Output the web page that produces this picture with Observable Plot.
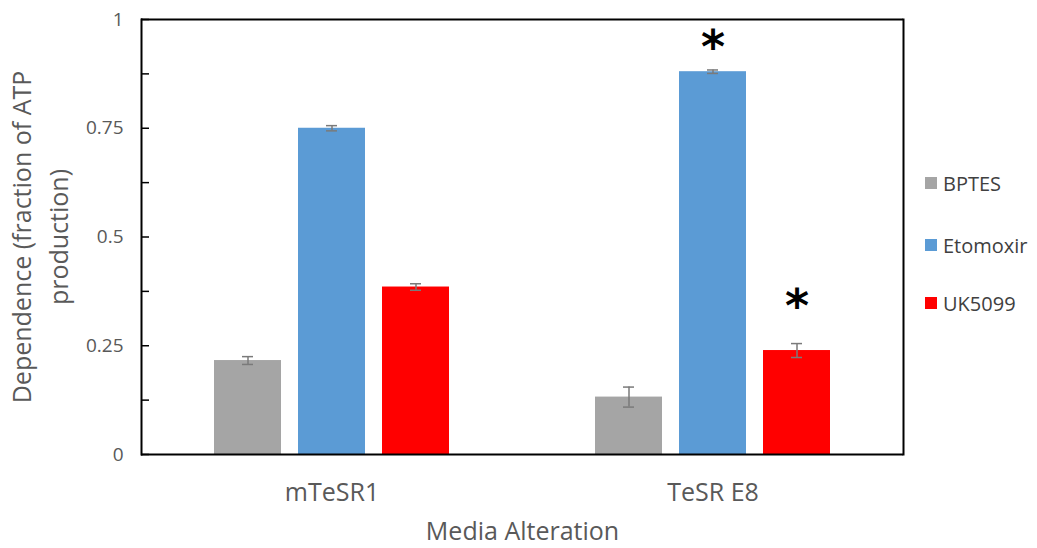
<!DOCTYPE html>
<html>
<head>
<meta charset="utf-8">
<script src="https://cdn.jsdelivr.net/npm/d3@7"></script>
<script src="https://cdn.jsdelivr.net/npm/@observablehq/plot@0.6"></script>
<style>
  body { margin: 0; background: #fff; }
  #wrap { position: relative; width: 1037px; height: 548px; font-family: "Open Sans", sans-serif; }
  #wrap svg { position: absolute; left: 0; top: 0; }
  .item { position: absolute; left: 925px; height: 30px; display: flex; align-items: center; font-size: 20px; color: #404040; white-space: nowrap; }
  .sw { display: inline-block; width: 12px; height: 12px; margin-right: 6px; }
</style>
</head>
<body>
<div id="wrap"></div>
<script>
// ---- data ----
const groups = ["mTeSR1", "TeSR E8"];
const series = ["BPTES", "Etomoxir", "UK5099"];
const colors = ["#a5a5a5", "#5b9bd5", "#ff0000"];
const valuesMTeSR1 = [0.216, 0.750, 0.385];
const valuesTeSRE8 = [0.132, 0.880, 0.239];
const errMTeSR1 = [0.009, 0.006, 0.0075];
const errTeSRE8 = [0.023, 0.004, 0.016];
const yTicks = [0, 0.25, 0.5, 0.75, 1];
const yTickLabels = ["0", "0.25", "0.5", "0.75", "1"];
const yMinorTicks = [0, 0.125, 0.25, 0.375, 0.5, 0.625, 0.75, 0.875, 1];
const yDomain = [0, 1];
const starGroups = ["TeSR E8", "TeSR E8"];
const starSeries = ["Etomoxir", "UK5099"];
const starY = [0.95, 0.355];
const yLabel = "Dependence (fraction of ATP\nproduction)";
const xLabel = "Media Alteration";

// ---- build table ----
const rows = [];
series.forEach((s, i) => {
  rows.push({group: groups[0], series: s, value: valuesMTeSR1[i], err: errMTeSR1[i]});
  rows.push({group: groups[1], series: s, value: valuesTeSRE8[i], err: errTeSRE8[i]});
});
rows.forEach(d => { d.lo = d.value - d.err; d.hi = d.value + d.err; });
const stars = starGroups.map((g, i) => ({group: g, series: starSeries[i], y: starY[i]}));

const errColor = "#7a7a7a";
const textColor = "#595959";

const chart = Plot.plot({
  width: 1037,
  height: 548,
  marginLeft: 140,
  marginRight: 134,
  marginTop: 19,
  marginBottom: 94,
  style: {fontFamily: "Open Sans, sans-serif", background: "transparent", overflow: "visible"},
  fx: {domain: groups, padding: 0, axis: null},
  x: {domain: series, paddingInner: 0.2, paddingOuter: 0.85, axis: null},
  y: {domain: yDomain},
  color: {domain: series, range: colors},
  marks: [
    Plot.barY(rows, {fx: "group", x: "series", y: "value", fill: "series"}),
    Plot.ruleX(rows, {fx: "group", x: "series", y1: "lo", y2: "hi", stroke: errColor, strokeWidth: 1.5}),
    Plot.tickY(rows, {fx: "group", x: "series", y: "lo", stroke: errColor, strokeWidth: 1.5, insetLeft: 28, insetRight: 28}),
    Plot.tickY(rows, {fx: "group", x: "series", y: "hi", stroke: errColor, strokeWidth: 1.5, insetLeft: 28, insetRight: 28}),
    Plot.text(stars, {fx: "group", x: "series", y: "y", text: () => "*", fontSize: 46, fontWeight: "bold", fontFamily: "DejaVu Sans", fill: "#000", lineAnchor: "middle", dy: 7}),
    Plot.axisY({ticks: yMinorTicks, tickSize: -8, tickFormat: () => "", stroke: "#000", strokeWidth: 1.5, label: null}),
    Plot.axisY({ticks: yTicks, tickSize: 0, tickPadding: 18, tickFormat: (d) => yTickLabels[yTicks.indexOf(d)], fontSize: 19, color: textColor, label: null}),
    Plot.text([yLabel], {frameAnchor: "left", facetAnchor: "left", rotate: -90, dx: -137, lineAnchor: "top", lineHeight: 1.48, fontSize: 25, fill: textColor, textAnchor: "middle"}),
    Plot.text(groups, {fx: (d) => d, text: (d) => d, frameAnchor: "bottom", lineAnchor: "top", dy: 29, fontSize: 25, fill: textColor}),
    Plot.text([xLabel], {frameAnchor: "bottom-right", facetAnchor: "left", textAnchor: "middle", lineAnchor: "top", dy: 68, fontSize: 25, fill: textColor}),
    Plot.ruleY(yDomain, {stroke: "#000", strokeWidth: 2}),
    Plot.frame({anchor: "left", facetAnchor: "left", stroke: "#000", strokeWidth: 2}),
    Plot.frame({anchor: "right", facetAnchor: "right", stroke: "#000", strokeWidth: 2})
  ]
});

const wrap = document.getElementById("wrap");
wrap.appendChild(chart);

// legend
const legendCenters = [183, 245, 303];
series.forEach((s, i) => {
  const item = document.createElement("div");
  item.className = "item";
  item.style.top = (legendCenters[i] - 15) + "px";
  const sw = document.createElement("span");
  sw.className = "sw";
  sw.style.background = colors[i];
  item.appendChild(sw);
  item.appendChild(document.createTextNode(s));
  wrap.appendChild(item);
});
</script>
</body>
</html>
